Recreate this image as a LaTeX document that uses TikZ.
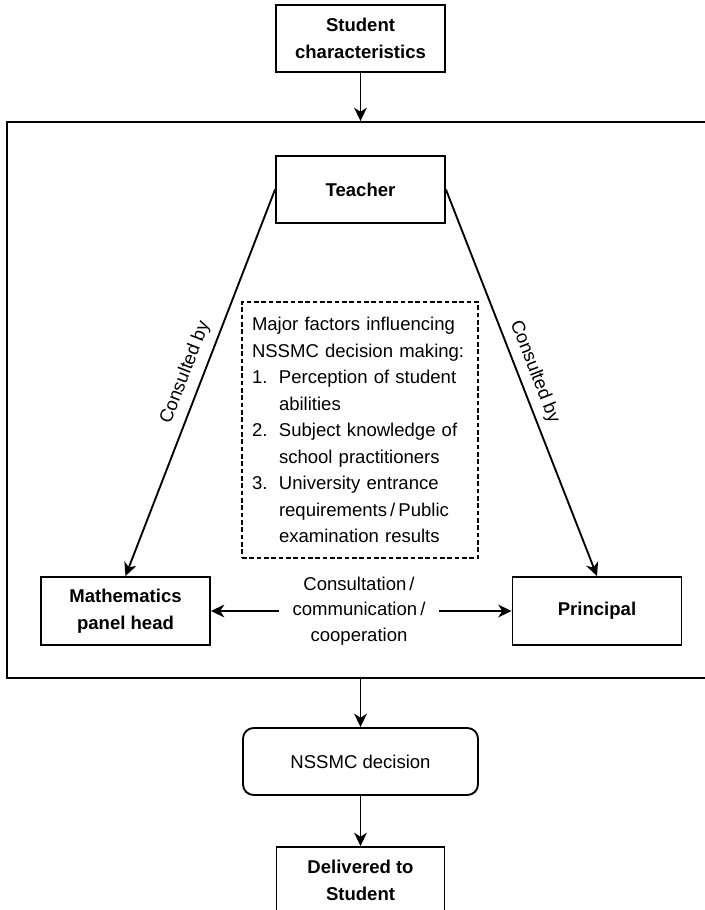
\documentclass[tikz,border=0pt]{standalone}
\usepackage{fontspec}
\setmainfont{Liberation Sans}
\usetikzlibrary{arrows.meta}
\begin{document}
\begin{tikzpicture}[x=0.75pt,y=-0.75pt,
  line width=1.4pt,
  box/.style={draw, line width=1.4pt, minimum width=126.75pt, minimum height=50.25pt, align=center, inner sep=0pt, font=\fontsize{13.9}{20}\selectfont\bfseries},
  arr/.style={line width=1.4pt, -{Stealth[length=10pt,width=9.5pt,inset=3pt]}},
  lbl/.style={font=\fontsize{13.9}{19}\selectfont, align=center}
]
\useasboundingbox (0,0) rectangle (705,910);
% outer frame
\node[draw, line width=1.4pt, minimum width=530.25pt, minimum height=417pt, inner sep=0pt] (frame) at (360.5,400) {};
% boxes
\node[box] (sc) at (360.5,38.5) {Student\\characteristics};
\node[box] (teacher) at (360.5,189.5) {Teacher};
\node[box, minimum height=51pt] (maths) at (125.5,611) {Mathematics\\panel head};
\node[box, minimum height=51pt] (principal) at (597,611) {Principal};
\node[box, rounded corners=8pt, minimum width=176.25pt, font=\fontsize{13.9}{20}\selectfont] (decision) at (360.5,761.5) {NSSMC decision};
\node[box, minimum width=126pt] (delivered) at (360.5,880.5) {Delivered to\\Student};
% factors
\node[draw, dash pattern=on 3.5pt off 2pt, line width=1.4pt, minimum width=177pt, minimum height=192pt,
      text width=162pt, inner sep=7.5pt, align=left, font=\fontsize{13.9}{19.9}\selectfont] (factors) at (360,430)
{Major factors influencing\\
NSSMC decision making:\\
\makebox[20.25pt][l]{1.}Perception of student\\
\hspace*{20.25pt}abilities\\
\makebox[20.25pt][l]{2.}Subject knowledge of\\
\hspace*{20.25pt}school practitioners\\
\makebox[20.25pt][l]{3.}University entrance\\
\hspace*{20.25pt}requirements\,/\,Public\\
\hspace*{20.25pt}examination results};
% consultation label
\node[lbl, minimum width=118.5pt, inner sep=0pt] (cons) at (359,611) {Consultation\,/\\communication\,/\\cooperation};
% connectors
\draw[arr] (sc) -- (frame.north);
\draw[arr] (frame.south) -- (decision);
\draw[arr] (decision) -- (delivered);
\draw[arr] (teacher.west) -- (maths.north)
  node[lbl, pos=0.49, sloped, inner sep=0pt, above=6pt] (cbl) {Consulted by};
\draw[arr] (teacher.east) -- (principal.north)
  node[lbl, pos=0.487, sloped, inner sep=0pt, above=5pt] (cbr) {Consulted by};
\draw[arr] (cons.west) -- (maths.east);
\draw[arr] (cons.east) -- (principal.west);
\end{tikzpicture}
\end{document}
